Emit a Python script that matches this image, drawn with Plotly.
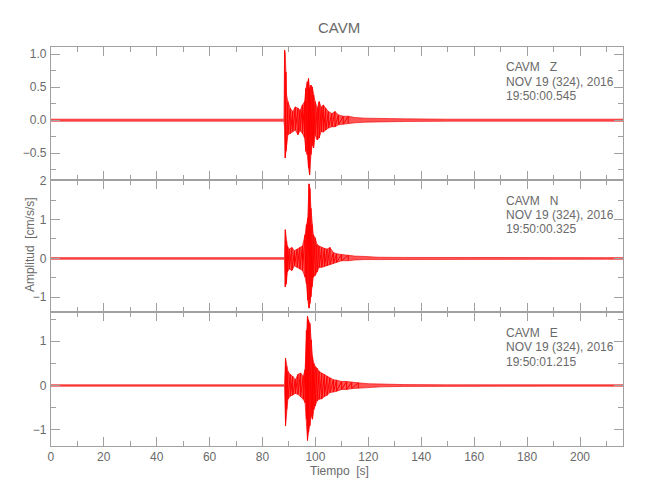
import plotly.graph_objects as go

# ---------------- data (envelopes) ----------------
t_end = 216.3

# Z component
t_z = [0, 20, 40, 60, 80, 88.1, 88.35, 88.6, 88.85, 89.1, 89.6, 90.5, 91.4, 92.4, 93.4, 94.2,
       95.1, 95.9, 96.4, 96.9, 97.4, 97.8, 98.3, 98.8, 99.3, 99.9, 100.7, 101.4, 102.2, 103.0,
       103.9, 104.9, 106.2, 107.4, 108.7, 110.5, 112.4, 114.9, 118.7, 123.7, 133.7, 150, 170,
       190, 210, 216.3]
up_z = [0.015, 0.015, 0.015, 0.015, 0.015, 0.015, 1.06, 1.02, 0.73, 0.38, 0.28, 0.18, 0.13, 0.20, 0.18, 0.15,
        0.23, 0.28, 0.48, 0.58, 0.63, 0.48, 0.53, 0.50, 0.38, 0.28, 0.18, 0.28, 0.20, 0.23,
        0.18, 0.13, 0.10, 0.13, 0.08, 0.06, 0.06, 0.04, 0.03, 0.025, 0.02, 0.015, 0.015,
        0.015, 0.015, 0.015]
lo_z = [-0.015, -0.015, -0.015, -0.015, -0.015, -0.015, -0.12, -0.57, -0.47, -0.37, -0.22, -0.20, -0.17, -0.15, -0.22, -0.16,
        -0.20, -0.27, -0.47, -0.52, -0.72, -0.83, -0.52, -0.37, -0.42, -0.22, -0.30, -0.27, -0.17, -0.18,
        -0.15, -0.12, -0.10, -0.10, -0.07, -0.06, -0.05, -0.04, -0.03, -0.025, -0.02, -0.015, -0.015,
        -0.015, -0.015, -0.015]

# N component
t_n = [0, 20, 40, 60, 80, 88.3, 88.6, 89.0, 89.4, 90.1, 91.1, 92.1, 93.1, 94.1, 95.1, 96.1,
       96.6, 97.1, 97.6, 97.9, 98.3, 98.7, 99.2, 99.9, 100.6, 101.4, 102.4, 103.4, 104.4, 105.5,
       106.8, 108.0, 109.9, 112.4, 114.9, 118.7, 123.7, 133.7, 150, 170, 190, 210, 216.3]
up_n = [0.02, 0.02, 0.02, 0.02, 0.02, 0.02, 0.74, 0.45, 0.32, 0.24, 0.28, 0.20, 0.24, 0.28, 0.32, 0.61,
        0.87, 1.04, 1.92, 1.80, 1.29, 0.87, 0.61, 0.53, 0.36, 0.32, 0.28, 0.26, 0.24, 0.28,
        0.15, 0.12, 0.10, 0.08, 0.06, 0.05, 0.03, 0.025, 0.02, 0.02, 0.02, 0.02, 0.02]
lo_n = [-0.02, -0.02, -0.02, -0.02, -0.02, -0.02, -0.73, -0.65, -0.35, -0.27, -0.31, -0.19, -0.23, -0.27, -0.31, -0.48,
        -0.65, -1.07, -1.28, -1.16, -0.99, -0.73, -0.48, -0.44, -0.35, -0.23, -0.23, -0.21, -0.19, -0.16,
        -0.13, -0.10, -0.06, -0.06, -0.04, -0.03, -0.03, -0.025, -0.02, -0.02, -0.02, -0.02, -0.02]

# E component
t_e = [0, 20, 40, 60, 80, 88.3, 88.7, 89.1, 89.6, 90.5, 91.4, 92.4, 93.4, 94.4, 95.4, 96.1,
       96.6, 97.0, 97.4, 97.9, 98.4, 98.9, 99.4, 99.9, 100.6, 101.4, 102.4, 103.4, 104.4, 105.5,
       106.8, 108.0, 109.9, 111.8, 113.7, 116.2, 120.0, 125.0, 133.7, 150, 170, 190, 210, 216.3]
up_e = [0.015, 0.015, 0.015, 0.015, 0.015, 0.015, 0.62, 0.43, 0.32, 0.25, 0.21, 0.13, 0.25, 0.28, 0.21, 0.36,
        1.25, 1.56, 1.47, 1.40, 1.03, 0.65, 0.50, 0.43, 0.39, 0.32, 0.28, 0.25, 0.21, 0.17,
        0.13, 0.12, 0.09, 0.09, 0.07, 0.06, 0.04, 0.03, 0.02, 0.015, 0.015, 0.015, 0.015, 0.015]
lo_e = [-0.015, -0.015, -0.015, -0.015, -0.015, -0.015, -0.91, -0.54, -0.31, -0.24, -0.22, -0.18, -0.20, -0.25, -0.31, -0.39,
        -0.76, -1.24, -1.06, -0.91, -0.69, -0.76, -0.54, -0.46, -0.35, -0.31, -0.30, -0.25, -0.22, -0.16,
        -0.15, -0.13, -0.09, -0.09, -0.07, -0.06, -0.04, -0.03, -0.02, -0.015, -0.015, -0.015, -0.015, -0.015]

components = ["Z", "N", "E"]
start_times = ["19:50:00.545", "19:50:00.325", "19:50:01.215"]
date_label = "NOV 19 (324), 2016"
station = "CAVM"
x_ticks = [0, 20, 40, 60, 80, 100, 120, 140, 160, 180, 200]

# ---------------- figure ----------------
W, H = 650, 500
OFF = 8  # default page body margin: compensate so the picture lands where intended
FONT = "Liberation Sans, Arial, sans-serif"
AXC = "#a0a0a0"
TXC = "#6a6a6a"


def fx(px):
    return (px - OFF) / W


def fy(py):
    return 1 - (py - OFF) / H


x_left, x_right = 48, 623
panels_px = [(41, 176), (176, 310), (310, 445)]
y_ranges = [[-0.905, 1.113], [-1.39, 2.02], [-1.36, 1.65]]
y_dticks = [0.5, 1, 1]
y_minor = [0.25, 0.5, 0.5]
y_fmt = [".1f", "d", "d"]

series = [(t_z, up_z, lo_z), (t_n, up_n, lo_n), (t_e, up_e, lo_e)]

fig = go.Figure()
layout = dict(
    width=W, height=H,
    margin=dict(l=0, r=0, t=0, b=0),
    paper_bgcolor="white", plot_bgcolor="white",
    showlegend=False,
    font=dict(family=FONT, color=TXC, size=12),
)

annotations = []
for i, ((top, bot), (tt, up, lo)) in enumerate(zip(panels_px, series)):
    n = "" if i == 0 else str(i + 1)
    xa, ya = "x" + n, "y" + n
    # envelope band
    fig.add_trace(go.Scatter(x=tt, y=up, mode="lines", xaxis=xa, yaxis=ya,
                             line=dict(color="rgba(240,0,0,0.9)", width=0.7),
                             hoverinfo="skip"))
    fig.add_trace(go.Scatter(x=tt, y=lo, mode="lines", xaxis=xa, yaxis=ya,
                             fill="tonexty", fillcolor="rgba(255,20,20,0.72)",
                             line=dict(color="rgba(240,0,0,0.9)", width=0.7),
                             hoverinfo="skip"))
    # trace swinging between the read envelope values (strong-motion part only)
    zx, zy = [], []
    for t, a, b in zip(tt, up, lo):
        if a - b > 0.1:
            zx += [t, t]
            zy += [a, b]
    fig.add_trace(go.Scatter(x=zx, y=zy, mode="lines", xaxis=xa, yaxis=ya,
                             line=dict(color="#ff0000", width=1),
                             hoverinfo="skip"))
    layout["xaxis" + n] = dict(
        domain=[fx(x_left), fx(x_right)], anchor=ya, range=[0, t_end],
        tickvals=x_ticks, showticklabels=(i == 2),
        ticks="inside", ticklen=9, tickcolor=AXC, tickwidth=1,
        minor=dict(ticks="inside", ticklen=5, tickcolor=AXC, dtick=10, tick0=0),
        showline=True, linecolor=AXC, linewidth=1, mirror="ticks",
        showgrid=False, zeroline=False,
        tickfont=dict(family=FONT, size=12, color=TXC),
    )
    layout["yaxis" + n] = dict(
        domain=[fy(bot), fy(top)], anchor=xa, range=y_ranges[i],
        dtick=y_dticks[i], tick0=0, tickformat=y_fmt[i],
        ticks="inside", ticklen=9, tickcolor=AXC, tickwidth=1,
        minor=dict(ticks="inside", ticklen=5, tickcolor=AXC, dtick=y_minor[i], tick0=0),
        showline=True, linecolor=AXC, linewidth=1, mirror="ticks",
        showgrid=False, zeroline=False,
        tickfont=dict(family=FONT, size=12, color=TXC),
        ticklabelstandoff=1,
    )
    lines = [f"{station}   {components[i]}", date_label, start_times[i]]
    for k, txt in enumerate(lines):
        annotations.append(dict(
            text=txt, xref="paper", yref="paper",
            x=fx(503), y=fy(top + 21 + 14.5 * k),
            xanchor="left", yanchor="middle", showarrow=False,
            font=dict(family=FONT, size=12, color=TXC),
        ))

annotations.append(dict(text=station, xref="paper", yref="paper", x=fx(338), y=fy(22),
                        xanchor="center", yanchor="middle", showarrow=False,
                        font=dict(family=FONT, size=15, color=TXC)))
annotations.append(dict(text="Tiempo  [s]", xref="paper", yref="paper", x=fx(338), y=fy(471),
                        xanchor="center", yanchor="middle", showarrow=False,
                        font=dict(family=FONT, size=12, color=TXC)))
annotations.append(dict(text="Amplitud  [cm/s/s]", xref="paper", yref="paper", x=fx(27), y=fy(241),
                        xanchor="center", yanchor="middle", showarrow=False, textangle=-90,
                        font=dict(family=FONT, size=12, color=TXC)))
layout["annotations"] = annotations

fig.update_layout(**layout)
fig.write_html("out.html")
